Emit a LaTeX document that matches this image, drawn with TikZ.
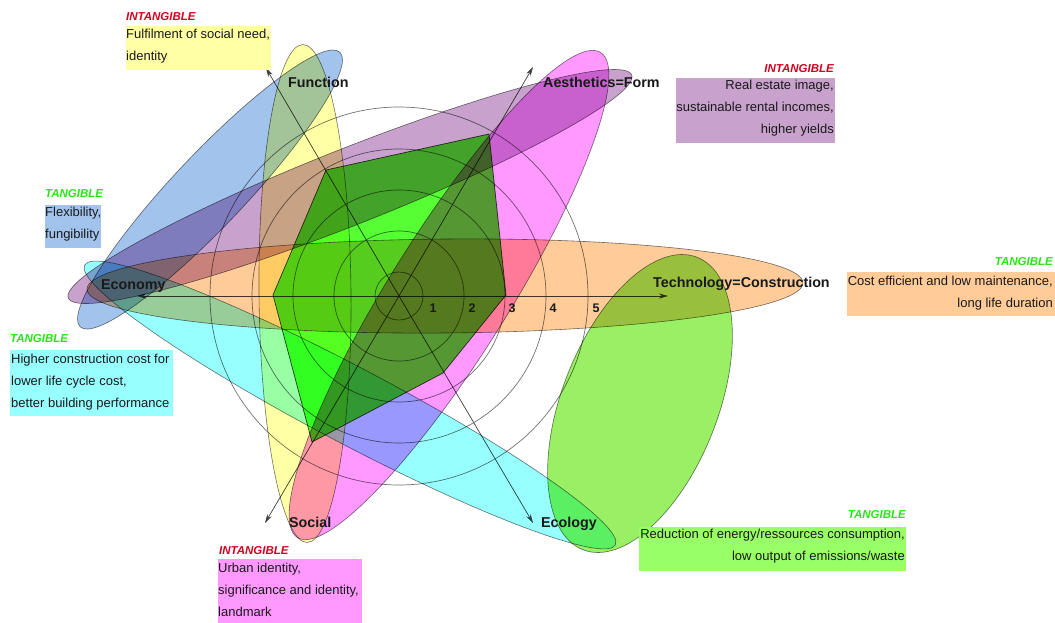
\documentclass[tikz,border=0pt]{standalone}
\usepackage{fontspec}
\setmainfont{Liberation Sans}
\usetikzlibrary{arrows.meta}

\definecolor{cYel}{RGB}{255,255,165}
\definecolor{cPur}{RGB}{200,162,205}
\definecolor{cBlu}{RGB}{162,196,236}
\definecolor{cOra}{RGB}{255,204,153}
\definecolor{cCya}{RGB}{152,255,255}
\definecolor{cPin}{RGB}{255,152,255}
\definecolor{cGre}{RGB}{153,240,100}
\definecolor{cGreBox}{RGB}{153,255,102}
\definecolor{cPoly}{RGB}{85,255,51}
\definecolor{tagred}{RGB}{210,0,30}
\definecolor{taggreen}{RGB}{40,230,20}
\definecolor{txt}{RGB}{25,25,25}

\begin{document}
\begin{tikzpicture}[x=1pt,y=-1pt,
  ring/.style={draw=black!55, line width=0.7pt},
  spoke/.style={draw=black!75, line width=0.7pt, -{Stealth[length=9pt,width=5pt]}},
  ell/.style={draw=black!55, line width=0.6pt},
  axlab/.style={font=\fontsize{14.3}{16}\selectfont\bfseries, text=txt, inner sep=0pt},
  num/.style={font=\fontsize{12.5}{14}\selectfont\bfseries, text=txt, inner sep=0pt, anchor=base},
  tagI/.style={font=\fontsize{11.5}{13}\selectfont\bfseries\itshape, text=tagred, inner sep=0pt},
  tagT/.style={font=\fontsize{11.5}{13}\selectfont\bfseries\itshape, text=taggreen, inner sep=0pt},
  lbl/.style={font=\fontsize{13}{22}\selectfont, text=txt, inner sep=0pt},
  bx/.style={inner sep=0pt, anchor=north west, draw=none}
]
\useasboundingbox (0,0) rectangle (1055,622);
\fill[white] (0,0) rectangle (1055,622);

% centre and axis end points
\coordinate (O) at (399,296);
\coordinate (aFun) at (266,68);
\coordinate (aAes) at (533,67);
\coordinate (aEco) at (137,296);
\coordinate (aTec) at (668,296);
\coordinate (aSoc) at (265,523);
\coordinate (aEcl) at (533,523);

% rings
\foreach \r in {24,65,106,147,189} {\draw[ring] (O) circle[radius=\r];}

% spokes
\draw[spoke] (O) -- (aFun);
\draw[spoke] (O) -- (aAes);
\draw[spoke] (O) -- (aEco);
\draw[spoke] (O) -- (aTec);
\draw[spoke] (O) -- (aSoc);
\draw[spoke] (O) -- (aEcl);

% translucent ellipses
\begin{scope}[blend mode=multiply]
\draw[ell, fill=cOra, rotate around={0.5:(445,286)}] (445,286) ellipse [x radius=358, y radius=47];
\draw[ell, fill=cYel, rotate around={90.5:(305,293.5)}] (305,293.5) ellipse [x radius=249, y radius=46];
\draw[ell, fill=cBlu, rotate around={46.6:(210,189.5)}] (210,189.5) ellipse [x radius=189, y radius=36];
\draw[ell, fill=cPur, rotate around={21.6:(350,186.5)}] (350,186.5) ellipse [x radius=303, y radius=38];
\draw[ell, fill=cPin, rotate around={58:(449,295)}] (449,295) ellipse [x radius=286, y radius=60];
\draw[ell, fill=cCya, rotate around={-27.8:(350,405)}] (350,405) ellipse [x radius=300, y radius=38];
\draw[ell, fill=cGre, rotate around={68.7:(640,403.5)}] (640,403.5) ellipse [x radius=157, y radius=78];
% value polygon
\filldraw[fill=cPoly, draw=black!75, line width=0.7pt]
  (326,170) -- (489,134) -- (506,295) -- (443,373) -- (312,442) -- (273,295) -- cycle;
\end{scope}

% axis labels
\node[axlab, anchor=base west] (lFun) at (288,87.5) {Function};
\node[axlab, anchor=base west] (lAes) at (543,87.5) {Aesthetics=Form};
\node[axlab, anchor=base west] (lEco) at (101,289) {Economy};
\node[axlab, anchor=base west] (lTec) at (653,287) {Technology=Construction};
\node[axlab, anchor=base west] (lSoc) at (289,527) {Social};
\node[axlab, anchor=base west] (lEcl) at (541,527) {Ecology};

% scale numbers
\node[num] (n1) at (433,312) {1};
\node[num] (n2) at (472,312) {2};
\node[num] (n3) at (512,312) {3};
\node[num] (n4) at (553,312) {4};
\node[num] (n5) at (596,312) {5};

% Function label (yellow)
\node[tagI, anchor=base west] (tFun) at (126,20) {INTANGIBLE};
\node[bx, fill=cYel, minimum width=145pt, minimum height=44pt] (bFun) at (126,26) {};
\node[lbl, anchor=north west, align=left] (xFun) at (126,28.5) {Fulfilment of social need,\\identity};

% Aesthetics label (purple)
\node[tagI, anchor=base east] (tAes) at (834,72) {INTANGIBLE};
\node[bx, fill=cPur, minimum width=159pt, minimum height=65pt] (bAes) at (676,78) {};
\node[lbl, anchor=north east, align=right] (xAes) at (834,79.5) {Real estate image,\\sustainable rental incomes,\\higher yields};

% Economy label (blue)
\node[tagT, anchor=base west] (tEcoB) at (45,197) {TANGIBLE};
\node[bx, fill=cBlu, minimum width=56pt, minimum height=43pt] (bEcoB) at (45,205) {};
\node[lbl, anchor=north west, align=left] (xEcoB) at (45,206.5) {Flexibility,\\fungibility};

% Technology label (orange)
\node[tagT, anchor=base east] (tTec) at (1053,265) {TANGIBLE};
\node[bx, fill=cOra, minimum width=208pt, minimum height=44pt] (bTec) at (847,272) {};
\node[lbl, anchor=north east, align=right] (xTec) at (1053,275.5) {Cost efficient and low maintenance,\\long life duration};

% Economy label (cyan)
\node[tagT, anchor=base west] (tEcoC) at (10,342) {TANGIBLE};
\node[bx, fill=cCya, minimum width=163pt, minimum height=66pt] (bEcoC) at (10,350) {};
\node[lbl, anchor=north west, align=left] (xEcoC) at (11,353.5) {Higher construction cost for\\lower life cycle cost,\\better building performance};

% Social label (pink)
\node[tagI, anchor=base west] (tSoc) at (219,554) {INTANGIBLE};
\node[bx, fill=cPin, minimum width=144pt, minimum height=64pt] (bSoc) at (218,559) {};
\node[lbl, anchor=north west, align=left] (xSoc) at (218,562.5) {Urban identity,\\significance and identity,\\landmark};

% Ecology label (green)
\node[tagT, anchor=base east] (tEcl) at (906,518) {TANGIBLE};
\node[bx, fill=cGreBox, minimum width=267pt, minimum height=44pt] (bEcl) at (639,527) {};
\node[lbl, anchor=north east, align=right] (xEcl) at (905,528.5) {Reduction of energy/ressources consumption,\\low output of emissions/waste};
\end{tikzpicture}
\end{document}
